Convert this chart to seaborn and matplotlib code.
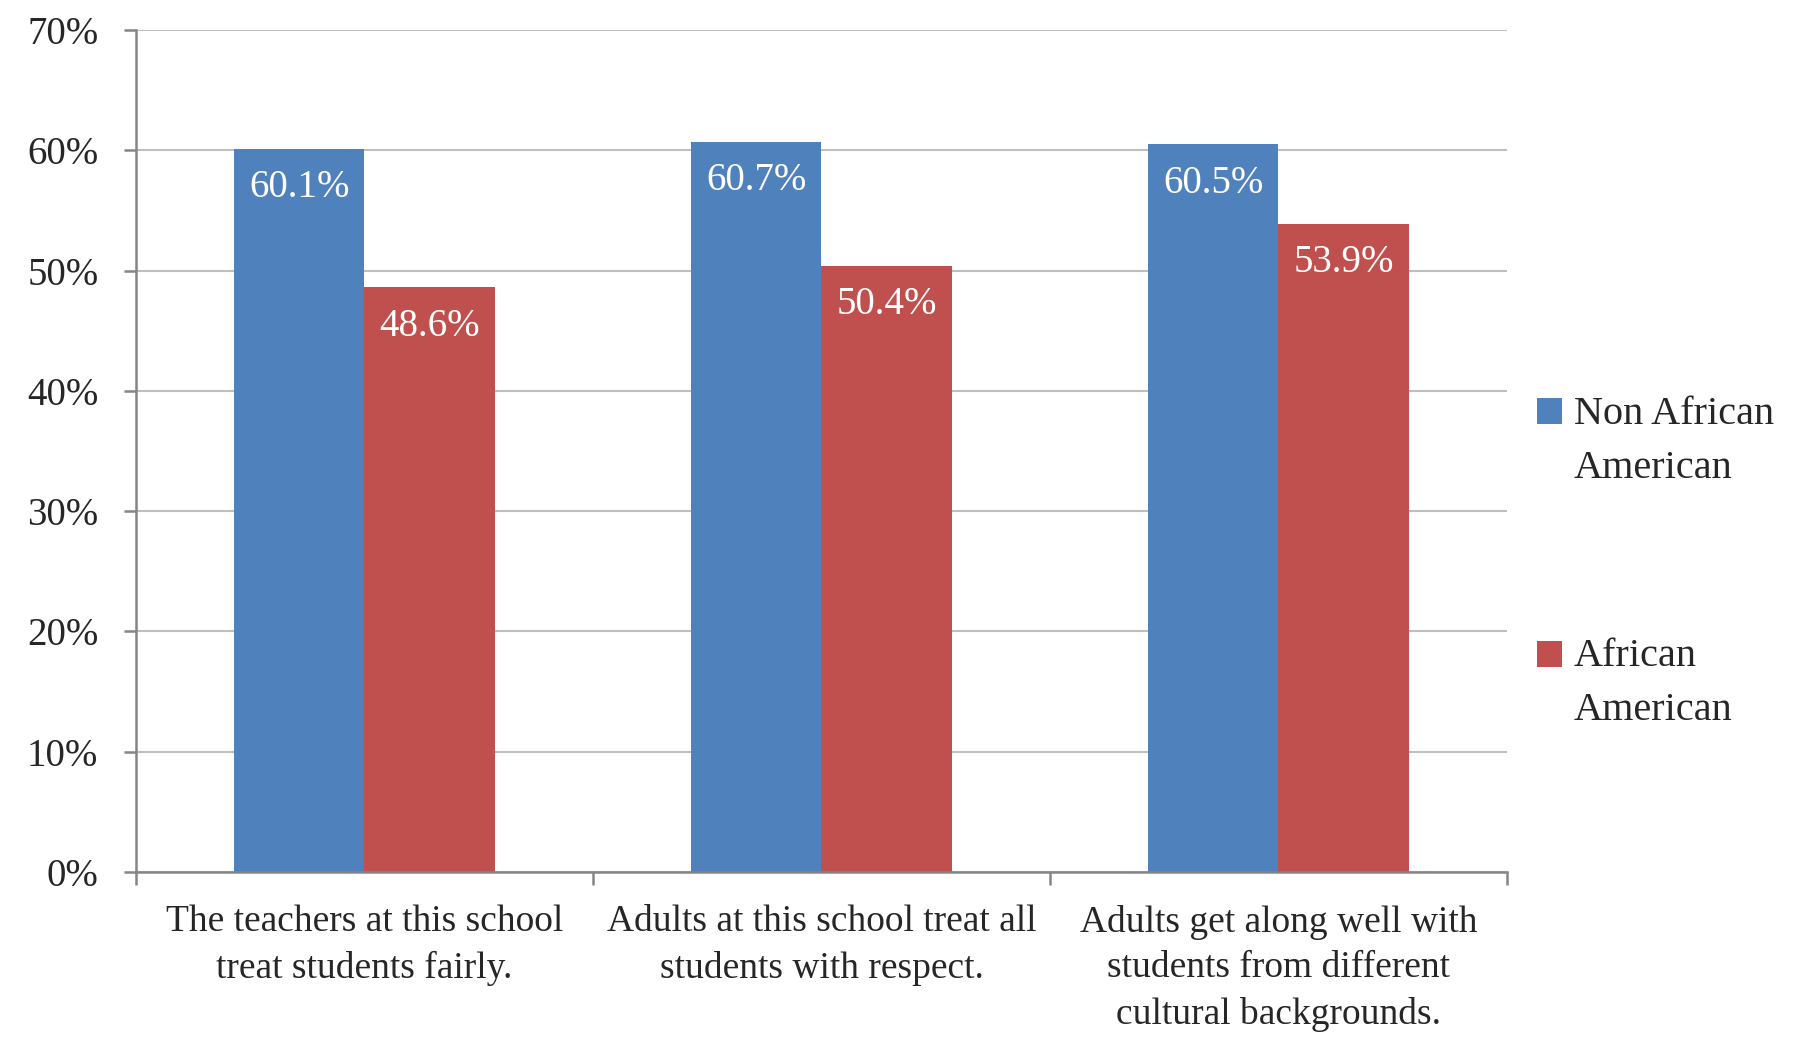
import pandas as pd
import numpy as np
import matplotlib.pyplot as plt
import seaborn as sns
from matplotlib.ticker import PercentFormatter, FixedLocator

# Datos
items = [
    'The teachers at this school\ntreat students fairly.',
    'Adults at this school treat all\nstudents with respect.',
    'Adults get along well with\nstudents from different\ncultural backgrounds.',
]
grupos = ['Non African American', 'African American']
etiquetas_leyenda = ['Non African\nAmerican', 'African\nAmerican']
no_afroamericanos = [60.1, 60.7, 60.5]
afroamericanos = [48.6, 50.4, 53.9]

colores = ['#4F81BD', '#C0504D']
gris_grid = '#BFBFBF'
gris_eje = '#868686'

df = pd.DataFrame({
    'item': items * 2,
    'grupo': [grupos[0]] * 3 + [grupos[1]] * 3,
    'valor': no_afroamericanos + afroamericanos,
})

sns.set_style('white')
plt.rcParams['font.family'] = ['Liberation Serif', 'DejaVu Serif']

fig = plt.figure(figsize=(18.08, 10.39), dpi=100)
ax = fig.add_axes([0.0752, 0.1607, 0.7583, 0.8104])

sns.barplot(data=df, x='item', y='valor', hue='grupo', order=items, hue_order=grupos,
            palette=colores, width=0.57, saturation=1, ax=ax, errorbar=None,
            linewidth=0, legend=True)

# Etiquetas de datos dentro de las barras
for cont in ax.containers:
    for barra in cont:
        h = barra.get_height()
        ax.annotate(f'{h:.1f}%', (barra.get_x() + barra.get_width() / 2, h),
                    xytext=(0, -28), textcoords='offset points',
                    ha='center', va='center', color='white', fontsize=28)

ax.set_ylim(0, 70)
ax.set_xlim(-0.5, 2.5)
ax.yaxis.set_major_locator(FixedLocator(np.arange(0, 71, 10)))
ax.yaxis.set_major_formatter(PercentFormatter(decimals=0))
ax.grid(axis='y', color=gris_grid, linewidth=1.5)
ax.set_axisbelow(True)

for lado in ['top', 'right']:
    ax.spines[lado].set_visible(False)
for lado in ['left', 'bottom']:
    ax.spines[lado].set_color(gris_eje)
    ax.spines[lado].set_linewidth(1.8)

ax.set_xlabel('')
ax.set_ylabel('')
ax.tick_params(axis='y', which='major', left=True, length=9, width=1.8, color=gris_eje,
               labelsize=28, pad=18)
ax.tick_params(axis='x', which='major', bottom=False, labelsize=27, pad=20)
ax.set_xticks([-0.5, 0.5, 1.5, 2.5], minor=True)
ax.tick_params(axis='x', which='minor', bottom=True, length=9, width=1.8, color=gris_eje,
               direction='out')
for t in ax.get_xticklabels():
    t.set_linespacing(1.42)

# Leyenda a la derecha
handles, _ = ax.get_legend_handles_labels()
ax.get_legend().remove()
tam_leyenda = 29
interlineado = 1.6
leg = fig.legend(handles, etiquetas_leyenda, loc='upper left', bbox_to_anchor=(0.83, 0.654),
                 frameon=False, fontsize=tam_leyenda, handlelength=0.62, handleheight=0.62,
                 handletextpad=0.3, labelspacing=3.77)
for t in leg.get_texts():
    t.set_linespacing(interlineado)
# subir el cuadrado a la altura de la primera linea
for h in leg.legend_handles:
    h.set_y(h.get_y() + tam_leyenda * interlineado * 1.2 / 2 - 6.5)

plt.savefig('out.png', dpi=100)
